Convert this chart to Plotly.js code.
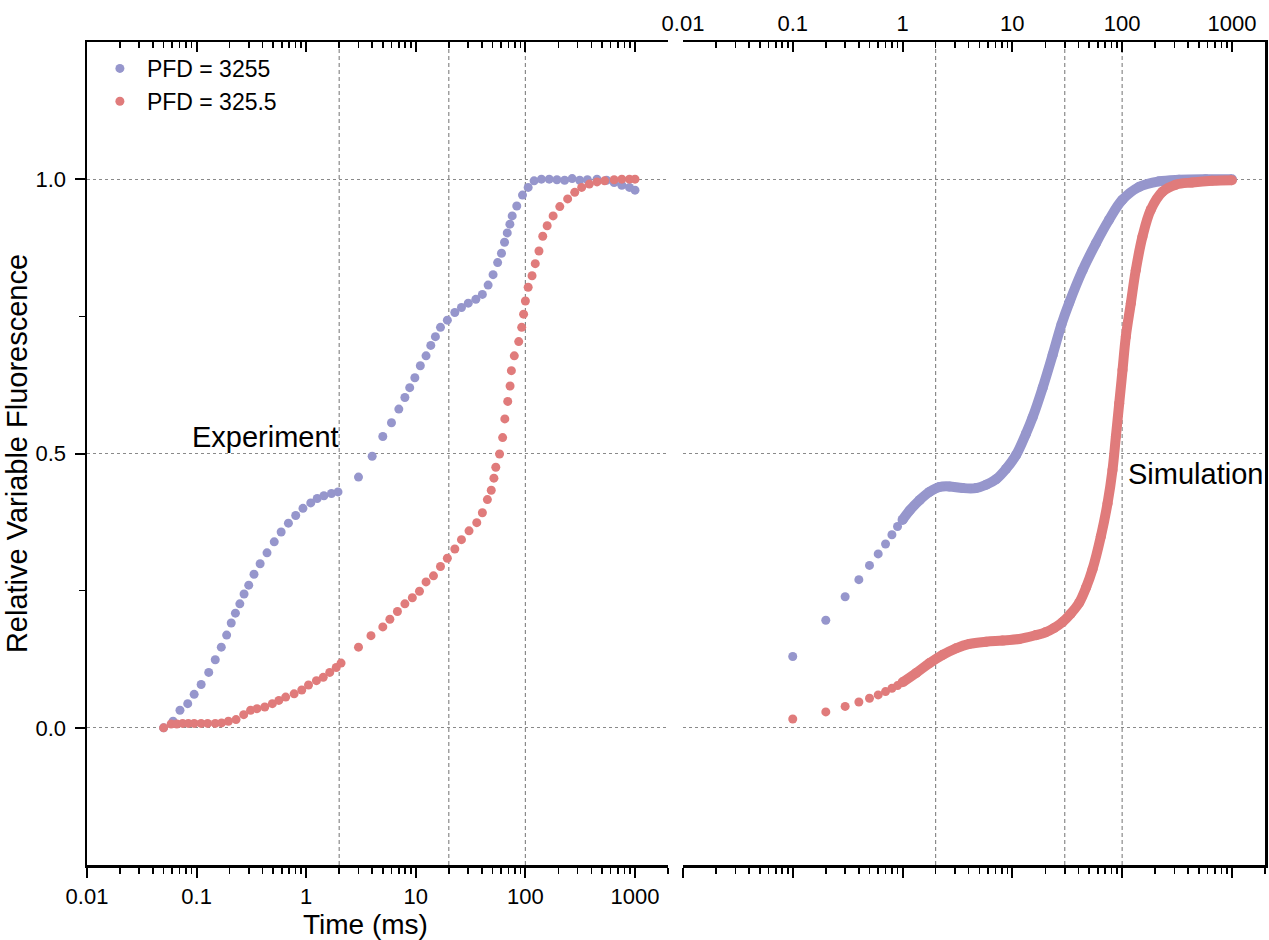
<!DOCTYPE html>
<html>
<head>
<meta charset="utf-8">
<script src="https://cdn.plot.ly/plotly-3.0.1.min.js"></script>
<style>
  html, body { margin: 0; padding: 0; background: #fff; }
  #chart { width: 1269px; height: 940px; }
</style>
</head>
<body>
<div id="chart"></div>
<script>
// experiment, PFD = 3255 (time in ms, relative variable fluorescence)
const expHighT = [0.05, 0.061, 0.0705, 0.083, 0.095, 0.11, 0.129, 0.148, 0.168, 0.188, 0.207, 0.226, 0.248, 0.271, 0.299,
    0.334, 0.38, 0.439, 0.511, 0.591, 0.688, 0.802, 0.934, 1.10, 1.26, 1.45, 1.70, 1.95,
    3.0, 4.0, 5.0, 6.0, 7.0, 7.95, 8.8, 9.8, 11.0, 12.4, 13.7, 15.1, 16.8, 19.4, 22.7, 26.1, 30.1, 35.3, 40.5,
    45.7, 50.7, 55.8, 60.5, 64.5, 68.3, 72.2, 75.8, 83.4, 94.1, 106, 120, 140, 165, 194, 228, 267, 313, 368,
    450, 550, 645, 758, 890, 1000];
const expHighF = [0.000, 0.012, 0.032, 0.044, 0.061, 0.079, 0.101, 0.124, 0.147, 0.169, 0.191, 0.209, 0.226, 0.244, 0.260,
    0.280, 0.299, 0.319, 0.339, 0.357, 0.373, 0.387, 0.400, 0.410, 0.418, 0.423, 0.427, 0.430,
    0.457, 0.495, 0.531, 0.556, 0.581, 0.602, 0.620, 0.638, 0.660, 0.678, 0.697, 0.713, 0.730, 0.743, 0.757, 0.766, 0.774, 0.781, 0.790,
    0.807, 0.826, 0.848, 0.865, 0.885, 0.902, 0.918, 0.933, 0.951, 0.971, 0.985, 0.997, 1.000, 1.000, 0.999, 0.998, 1.001, 0.998, 0.999,
    1.000, 0.998, 0.994, 0.989, 0.985, 0.980];

// experiment, PFD = 325.5
const expLowT = [0.05, 0.0586, 0.066, 0.0745, 0.084, 0.095, 0.110, 0.126, 0.148, 0.169, 0.195, 0.229, 0.269, 0.311, 0.356,
    0.419, 0.491, 0.563, 0.650, 0.776, 0.911, 1.05, 1.24, 1.43, 1.64, 1.88, 2.08,
    3.0, 3.9, 5.0, 5.8, 6.8, 7.95, 9.3, 10.8, 12.4, 14.5, 16.8, 19.4, 22.7, 26.1, 30.6, 36.0, 40.5, 45.0, 48.8,
    51.6, 53.7, 58.1, 62.0, 64.9, 69.0, 72.5, 74.5, 79.2, 86.9, 92.5, 96.3, 100, 106, 115, 123, 133, 144, 158,
    179, 206, 243, 282, 326, 383, 450, 528, 645, 758, 890, 1000];
const expLowF = [0.000, 0.007, 0.007, 0.008, 0.008, 0.008, 0.008, 0.008, 0.008, 0.009, 0.012, 0.015, 0.024, 0.032, 0.035,
    0.038, 0.044, 0.050, 0.056, 0.062, 0.069, 0.078, 0.086, 0.092, 0.101, 0.110, 0.118,
    0.147, 0.168, 0.184, 0.198, 0.212, 0.226, 0.237, 0.249, 0.266, 0.277, 0.294, 0.309, 0.326, 0.343, 0.359, 0.374, 0.392, 0.416, 0.433,
    0.455, 0.475, 0.499, 0.529, 0.563, 0.595, 0.623, 0.651, 0.678, 0.704, 0.730, 0.754, 0.778, 0.803, 0.824, 0.846, 0.869, 0.896, 0.915,
    0.933, 0.950, 0.964, 0.976, 0.985, 0.991, 0.995, 0.997, 0.999, 1.000, 1.000, 1.000];

// simulation, first separate points
const simEarlyT = [0.1, 0.2, 0.3, 0.4, 0.5, 0.6, 0.7, 0.8, 0.9, 1.0];
const simHighEarlyF = [0.130, 0.196, 0.239, 0.270, 0.296, 0.317, 0.335, 0.352, 0.367, 0.379];
const simLowEarlyF = [0.016, 0.029, 0.039, 0.047, 0.054, 0.060, 0.066, 0.072, 0.077, 0.083];

// simulation, dense part (drawn as a thick band)
const simHighT = [1.0, 1.16, 1.43, 1.76, 2.17, 2.67, 3.53, 4.68, 5.77, 7.11, 8.77, 10.8, 13.3, 15.3, 18.9, 23.3,
    28, 33, 43.6, 57.7, 76, 100, 143, 217, 330, 576, 1000];
const simHighF = [0.379, 0.396, 0.415, 0.430, 0.439, 0.440, 0.437, 0.437, 0.443, 0.453, 0.472, 0.497, 0.536, 0.566, 0.620, 0.680,
    0.735, 0.775, 0.834, 0.883, 0.926, 0.962, 0.986, 0.996, 0.999, 1.000, 1.000];
const simLowT = [1.0, 1.33, 1.76, 2.32, 3.07, 4.06, 5.77, 8.17, 11.6, 16.4, 20, 24, 28.7, 34, 40.6, 47, 53.7, 64, 73.6, 81.7,
    87.7, 94, 100.8, 108, 120, 133, 153, 182, 233, 308, 436, 662, 1000];
const simLowF = [0.083, 0.100, 0.118, 0.133, 0.145, 0.153, 0.157, 0.159, 0.162, 0.169, 0.174, 0.182, 0.193, 0.208, 0.228, 0.256, 0.289, 0.349, 0.409, 0.470,
    0.531, 0.591, 0.652, 0.713, 0.774, 0.834, 0.895, 0.944, 0.977, 0.990, 0.994, 0.997, 0.998];

const timeTicks = [0.01, 0.1, 1, 10, 100, 1000];
const timeTickText = ['0.01', '0.1', '1', '10', '100', '1000'];
const timeRange = [0.01, 2000];
const fluoRange = [-0.25, 1.25];
const expGrid = [2, 20, 100];   // dashed verticals, left panel
const simGrid = [2, 30, 100];   // dashed verticals, right panel

const COL_HIGH = '#9696cc';
const COL_LOW = '#e07b7b';
const FONT = 'Liberation Sans, Arial, sans-serif';

function gridTrace(vals, xa, ya) {
    let x = [], y = [];
    vals.forEach(function(v) {
        x.push(v, v, null);
        y.push(fluoRange[0], fluoRange[1], null);
    });
    return {
        x: x, y: y, xaxis: xa, yaxis: ya,
        type: 'scatter', mode: 'lines', hoverinfo: 'skip', showlegend: false,
        line: { color: '#8a8a8a', width: 1.2, dash: '4px,3px' }
    };
}

function timeAxis(extra) {
    let logRange = timeRange.map(Math.log10);
    let ax = {
        type: 'log',
        range: logRange,
        tickvals: timeTicks,
        ticktext: timeTickText,
        showgrid: false,
        zeroline: false,
        showline: true,
        linecolor: '#000',
        linewidth: 2.5,
        ticks: 'outside',
        ticklen: 10,
        tickwidth: 2,
        tickcolor: '#000',
        tickfont: { family: FONT, size: 22, color: '#000' },
        minor: { ticks: 'outside', ticklen: 6, tickwidth: 1.6, tickcolor: '#000', dtick: 'D1', showgrid: false },
        fixedrange: true
    };
    return Object.assign(ax, extra);
}

function fluoAxis(extra) {
    let ax = {
        range: fluoRange,
        tickvals: [0, 0.5, 1.0],
        tickformat: '.1f',
        showgrid: true,
        gridcolor: '#8a8a8a',
        gridwidth: 1.2,
        griddash: 'dot',
        zeroline: false,
        showline: true,
        linecolor: '#000',
        linewidth: 2.5,
        tickfont: { family: FONT, size: 22, color: '#000' },
        fixedrange: true
    };
    return Object.assign(ax, extra);
}

function draw() {
    let dotSize = 9;
    let bandWidth = 10;
    let bigFont = { family: FONT, size: 29, color: '#000' };

    let data = [
        gridTrace(expGrid, 'x', 'y'),
        gridTrace(simGrid, 'x2', 'y2'),
        {
            x: expHighT, y: expHighF, xaxis: 'x', yaxis: 'y',
            type: 'scatter', mode: 'markers', name: 'PFD = 3255',
            marker: { color: COL_HIGH, size: dotSize }
        },
        {
            x: expLowT, y: expLowF, xaxis: 'x', yaxis: 'y',
            type: 'scatter', mode: 'markers', name: 'PFD = 325.5',
            marker: { color: COL_LOW, size: dotSize }
        },
        {
            x: simEarlyT, y: simHighEarlyF, xaxis: 'x2', yaxis: 'y2',
            type: 'scatter', mode: 'markers', showlegend: false,
            marker: { color: COL_HIGH, size: dotSize }
        },
        {
            x: simHighT, y: simHighF, xaxis: 'x2', yaxis: 'y2',
            type: 'scatter', mode: 'lines+markers', showlegend: false,
            line: { color: COL_HIGH, width: bandWidth, shape: 'spline', smoothing: 1 },
            marker: { color: COL_HIGH, size: bandWidth }
        },
        {
            x: simEarlyT, y: simLowEarlyF, xaxis: 'x2', yaxis: 'y2',
            type: 'scatter', mode: 'markers', showlegend: false,
            marker: { color: COL_LOW, size: dotSize }
        },
        {
            x: simLowT, y: simLowF, xaxis: 'x2', yaxis: 'y2',
            type: 'scatter', mode: 'lines+markers', showlegend: false,
            line: { color: COL_LOW, width: bandWidth, shape: 'spline', smoothing: 1 },
            marker: { color: COL_LOW, size: bandWidth }
        },
        // empty traces so the mirrored tick axes get drawn
        { x: [], y: [], xaxis: 'x3', yaxis: 'y', type: 'scatter', showlegend: false },
        { x: [], y: [], xaxis: 'x4', yaxis: 'y2', type: 'scatter', showlegend: false }
    ];

    let leftDom = [0, 0.4932];
    let rightDom = [0.5059, 1];

    let layout = {
        width: 1269,
        height: 940,
        margin: { l: 87, r: 4, t: 42, b: 75 },
        paper_bgcolor: '#fff',
        plot_bgcolor: 'rgba(0,0,0,0)',
        font: { family: FONT, color: '#000' },
        showlegend: true,
        legend: {
            x: 0.005, y: 0.994, xanchor: 'left', yanchor: 'top',
            bgcolor: 'rgba(0,0,0,0)',
            font: { family: FONT, size: 23, color: '#000' },
            tracegroupgap: 0,
            itemwidth: 44
        },
        xaxis: timeAxis({ domain: leftDom, anchor: 'y', side: 'bottom' }),
        xaxis3: timeAxis({
            overlaying: 'x', anchor: 'y', side: 'top',
            ticks: 'inside', showticklabels: false,
            minor: { ticks: 'inside', ticklen: 6, tickwidth: 1.6, tickcolor: '#000', dtick: 'D1', showgrid: false }
        }),
        xaxis2: timeAxis({
            domain: rightDom, anchor: 'y2', side: 'top',
            ticks: 'inside',
            minor: { ticks: 'inside', ticklen: 6, tickwidth: 1.6, tickcolor: '#000', dtick: 'D1', showgrid: false }
        }),
        xaxis4: timeAxis({
            overlaying: 'x2', anchor: 'y2', side: 'bottom', showticklabels: false
        }),
        yaxis: fluoAxis({
            anchor: 'x', side: 'left',
            ticks: 'outside', ticklen: 10, tickwidth: 2, tickcolor: '#000',
            ticklabelstandoff: 4,
            minor: { tickvals: [0.25, 0.75], ticks: 'outside', ticklen: 6, tickwidth: 1.6, tickcolor: '#000', showgrid: false },
            title: { text: 'Relative Variable Fluorescence', font: bigFont, standoff: 0 }
        }),
        yaxis2: fluoAxis({
            anchor: 'x2', side: 'right',
            ticks: '', showticklabels: false
        }),
        annotations: [
            {
                // x title sits a little left of the panel centre
                xref: 'paper', yref: 'paper', x: 0.2368, y: -0.0505,
                text: 'Time (ms)', showarrow: false, xanchor: 'center', yanchor: 'top',
                font: { family: FONT, size: 28, color: '#000' }
            },
            {
                xref: 'x', yref: 'y', x: Math.log10(0.0867), y: 0.53,
                text: 'Experiment', showarrow: false, xanchor: 'left', yanchor: 'middle',
                font: bigFont
            },
            {
                xref: 'x2', yref: 'y2', x: Math.log10(108.7), y: 0.463,
                text: 'Simulation', showarrow: false, xanchor: 'left', yanchor: 'middle',
                font: bigFont
            }
        ]
    };

    Plotly.newPlot('chart', data, layout, { displayModeBar: false, staticPlot: true });
}

document.addEventListener('DOMContentLoaded', draw);
</script>
</body>
</html>
